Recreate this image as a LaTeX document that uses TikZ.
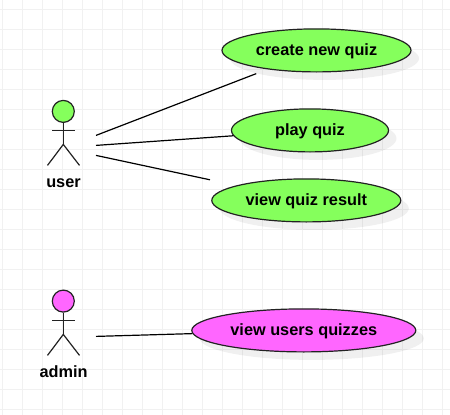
\documentclass[tikz,border=0pt]{standalone}
\usepackage{fontspec}
\setmainfont{Liberation Sans}
\usetikzlibrary{shapes.geometric, shadows}
\definecolor{limefill}{HTML}{85FF5C}
\definecolor{pinkfill}{HTML}{FF66FF}
\definecolor{gridline}{HTML}{F1F1F1}
\definecolor{inkline}{HTML}{222222}
\tikzset{
  usecase/.style={ellipse, draw=inkline, line width=1.2pt, inner sep=0pt, minimum height=43pt,
    text height=12pt, text depth=1.4pt, font=\bfseries\fontsize{16.3}{16.3}\selectfont,
    drop shadow={shadow xshift=8pt, shadow yshift=-8pt, fill=black, opacity=.06}},
  head/.style={circle, draw=inkline, line width=1.2pt, inner sep=0pt, minimum size=22pt},
  limb/.style={draw=inkline, line width=1.2pt},
  link/.style={draw=black, line width=1.2pt},
  actorname/.style={anchor=base, inner sep=0pt, font=\bfseries\fontsize{16.3}{16.3}\selectfont}
}
\begin{document}
\begin{tikzpicture}[x=1pt, y=-1pt]
  \useasboundingbox (0,-0.4) rectangle (450,414.6);
  \fill[white] (0,-0.4) rectangle (450,414.6);
  % grid
  \foreach \gx in {2.7,22.7,...,450} \draw[gridline, line width=1pt] (\gx,-0.4) -- (\gx,414.6);
  \foreach \gy in {9.3,29.3,...,415} \draw[gridline, line width=1pt] (0,\gy) -- (450,\gy);

  % use cases
  \node[usecase, fill=limefill, minimum width=189pt] (createquiz) at (316.5,50) {create new quiz};
  \node[usecase, fill=limefill, minimum width=157pt] (playquiz) at (310,130) {play quiz};
  \node[usecase, fill=limefill, minimum width=189pt] (viewresult) at (306.3,200) {view quiz result};
  \node[usecase, fill=pinkfill, minimum width=224pt] (viewusers) at (303.8,330) {view users quizzes};

  % user
  \node[head, fill=limefill] (userhead) at (63.3,111) {};
  \coordinate (userarml) at (52,130);
  \coordinate (userarmr) at (75,130);
  \coordinate (userhip) at (63.3,144);
  \coordinate (userlegl) at (47.5,165);
  \coordinate (userlegr) at (79.5,165);
  \node[actorname] (username) at (63.5,187.3) {user};
  \draw[limb] (userhead) -- (userhip);
  \draw[limb] (userarml) -- (userarmr);
  \draw[limb] (userlegl) -- (userhip) -- (userlegr);

  % admin
  \node[head, fill=pinkfill] (adminhead) at (63.3,300.7) {};
  \coordinate (adminarml) at (52,320);
  \coordinate (adminarmr) at (75,320);
  \coordinate (adminhip) at (63.3,334);
  \coordinate (adminlegl) at (47.5,355);
  \coordinate (adminlegr) at (79.5,355);
  \node[actorname] (adminname) at (63.5,377.3) {admin};
  \draw[limb] (adminhead) -- (adminhip);
  \draw[limb] (adminarml) -- (adminarmr);
  \draw[limb] (adminlegl) -- (adminhip) -- (adminlegr);

  % links
  \coordinate (userout1) at (96,135);
  \coordinate (userout2) at (96,145);
  \coordinate (userout3) at (96,155);
  \coordinate (adminout) at (96,336);
  \draw[link, shorten >=12pt] (userout1) -- (createquiz);
  \draw[link] (userout2) -- (playquiz);
  \draw[link, shorten >=27pt] (userout3) -- (viewresult);
  \draw[link] (adminout) -- (viewusers);
\end{tikzpicture}
\end{document}
